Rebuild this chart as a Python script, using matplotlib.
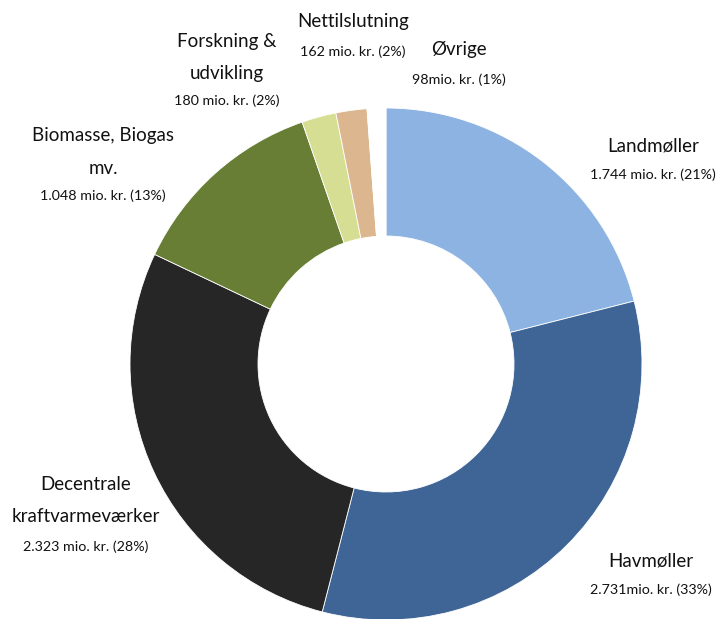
import matplotlib
matplotlib.use("Agg")
import matplotlib.pyplot as plt

categories = ["Landmøller", "Havmøller", "Decentrale\nkraftvarmeværker",
              "Biomasse, Biogas\nmv.", "Forskning &\nudvikling", "Nettilslutning", "Øvrige"]
values = [1744, 2731, 2323, 1048, 180, 162, 98]
value_labels = ["1.744 mio. kr. (21%)", "2.731mio. kr. (33%)", "2.323 mio. kr. (28%)",
                "1.048 mio. kr. (13%)", "180 mio. kr. (2%)", "162 mio. kr. (2%)", "98mio. kr. (1%)"]
colors = ["#8DB3E2", "#3E6596", "#262626", "#677E34", "#D5DE93", "#DCB68F", "#FFFFFF"]

W, H = 719, 619
fig = plt.figure(figsize=(W / 100, H / 100), dpi=100)
ax = fig.add_axes([0, 0, 1, 1])

cx, cy, R = 386, H - 364, 256
ax.pie(values, colors=colors, startangle=90, counterclock=False,
       center=(cx, cy), radius=R, frame=True,
       wedgeprops=dict(width=R * 0.5, edgecolor="white", linewidth=0.6))
ax.set_xlim(0, W)
ax.set_ylim(0, H)
ax.set_aspect("equal")
ax.axis("off")

# label layout: (x, first title line y, value y) in pixels from top
label_pos = [
    (653, 146, 175),
    (651, 561, 590),
    (86, 485, 547),
    (103, 136, 196),
    (227, 42, 101),
    (353, 22, 52),
    (459, 50, 80),
]
line_step = 32
font = ["Lato", "DejaVu Sans"]
for name, vl, (x, ty, vy) in zip(categories, value_labels, label_pos):
    for i, line in enumerate(name.split("\n")):
        ax.text(x, H - (ty + i * line_step), line, ha="center", va="center",
                fontsize=13.5, family=font, color="#111111")
    ax.text(x, H - vy, vl, ha="center", va="center", fontsize=10.3,
            family=font, color="#111111")

fig.savefig("out.png", dpi=100, facecolor="white")
